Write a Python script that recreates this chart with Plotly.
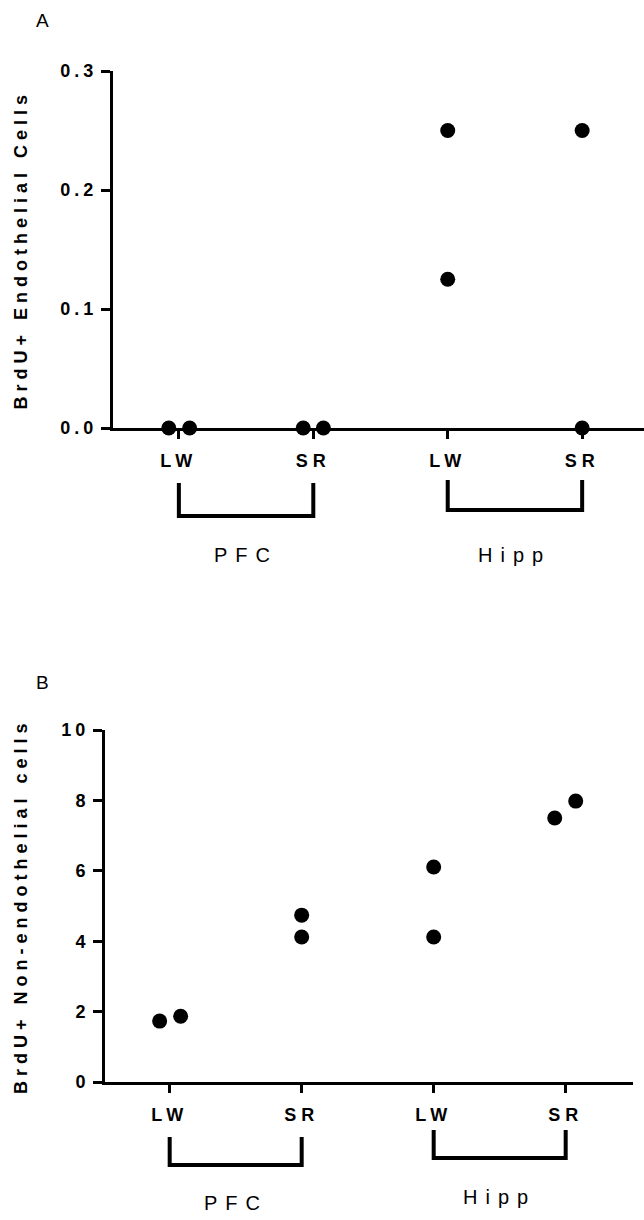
import plotly.graph_objects as go

# ---- data ----
group_labels = ["LW", "SR", "LW", "SR"]          # tick labels
regions = ["PFC", "Hipp"]                        # bracket labels

# Panel A: BrdU+ endothelial cells (two animals per group)
a_pfc_lw = [0.0, 0.0]
a_pfc_sr = [0.0, 0.0]
a_hipp_lw = [0.25, 0.125]
a_hipp_sr = [0.25, 0.0]
a_ticks = [0.0, 0.1, 0.2, 0.3]

# Panel B: BrdU+ non-endothelial cells
b_pfc_lw = [1.73, 1.87]
b_pfc_sr = [4.74, 4.12]
b_hipp_lw = [6.11, 4.12]
b_hipp_sr = [7.5, 7.98]
b_ticks = [0, 2, 4, 6, 8, 10]

# horizontal scatter offsets used to separate overlapping points (layout only)
a_offsets = [[-0.075, 0.08], [-0.075, 0.075], [0, 0], [0, 0]]
b_offsets = [[-0.076, 0.083], [0, 0], [0, 0], [-0.083, 0.076]]

W, H = 644, 1220
FONT = "Liberation Sans, Arial, sans-serif"


def sp(text, px, bold=False):
    t = f'<span style="letter-spacing:{px}px">{text}</span>'
    return f"<b>{t}</b>" if bold else t


def py(pix):
    return 1 - pix / H


fig = go.Figure()

panels = [
    dict(groups=[a_pfc_lw, a_pfc_sr, a_hipp_lw, a_hipp_sr], offs=a_offsets,
         xa="x", ya="y"),
    dict(groups=[b_pfc_lw, b_pfc_sr, b_hipp_lw, b_hipp_sr], offs=b_offsets,
         xa="x2", ya="y2"),
]

for p in panels:
    xs, ys = [], []
    for i, (vals, offs) in enumerate(zip(p["groups"], p["offs"])):
        for v, o in zip(vals, offs):
            xs.append(i + o)
            ys.append(v)
    fig.add_trace(go.Scatter(
        x=xs, y=ys, mode="markers", xaxis=p["xa"], yaxis=p["ya"],
        marker=dict(size=15, color="black", line=dict(width=0)),
        cliponaxis=False, showlegend=False, hoverinfo="skip"))

tick_font = dict(family=FONT, size=18, color="black")
ax_common = dict(showline=True, linewidth=3, linecolor="black", ticks="outside",
                 tickwidth=3, tickcolor="black", showgrid=False, zeroline=False,
                 tickfont=tick_font, automargin=False)

fig.update_layout(
    width=W, height=H, margin=dict(l=0, r=0, t=0, b=0, autoexpand=False),
    plot_bgcolor="white", paper_bgcolor="white",
    xaxis=dict(domain=[113 / W, 1.0], range=[-0.49, 3.46], anchor="y",
               tickvals=[0, 1, 2, 3], ticktext=[sp(t, 5, True) for t in group_labels],
               ticklen=8, ticklabelstandoff=6, **ax_common),
    yaxis=dict(domain=[py(428), py(71)], range=[0, 0.3], anchor="x",
               tickvals=a_ticks,
               ticktext=[sp(f"{v:.1f}", 4, True) for v in a_ticks],
               ticklen=9, ticklabelstandoff=0, **ax_common),
    xaxis2=dict(domain=[105 / W, 633 / W], range=[-0.49, 3.51], anchor="y2",
                tickvals=[0, 1, 2, 3], ticktext=[sp(t, 5, True) for t in group_labels],
                ticklen=8, ticklabelstandoff=6, **ax_common),
    yaxis2=dict(domain=[py(1082), py(730)], range=[0, 10], anchor="x2",
                tickvals=b_ticks,
                ticktext=[sp(str(v), 4, True) for v in b_ticks],
                ticklen=9, ticklabelstandoff=0, **ax_common),
)

# y-axis titles
fig.add_annotation(text=sp("BrdU+ Endothelial Cells", 5, True), textangle=-90,
                   xref="paper", yref="y domain", x=20 / W, y=0.5,
                   xanchor="center", yanchor="middle",
                   showarrow=False, font=dict(family=FONT, size=18, color="black"))
fig.add_annotation(text=sp("BrdU+ Non-endothelial cells", 5, True), textangle=-90,
                   xref="paper", yref="y2 domain", x=21 / W, y=0.5,
                   xanchor="center", yanchor="middle",
                   showarrow=False, font=dict(family=FONT, size=18, color="black"))

# panel letters
for letter, (lx, ly) in zip(["A", "B"], [(42, 20), (42, 682)]):
    fig.add_annotation(text=letter, xref="paper", yref="paper", x=lx / W, y=py(ly),
                       xanchor="center", yanchor="middle", showarrow=False,
                       font=dict(family=FONT, size=19, color="black"))

# group brackets + region labels
brackets = [
    # xref, (i0, i1), top px, bottom px, label px
    ("x", (0, 1), 483, 516, 555),
    ("x", (2, 3), 480, 510, 555),
    ("x2", (0, 1), 1137, 1165, 1203),
    ("x2", (2, 3), 1130, 1158, 1197),
]
for k, (xr, (i0, i1), top, bot, lab) in enumerate(brackets):
    fig.add_shape(type="path", xref=xr, yref="paper",
                  path=f"M {i0},{py(top)} L {i0},{py(bot)} L {i1},{py(bot)} L {i1},{py(top)}",
                  line=dict(color="black", width=4))
    fig.add_annotation(text=sp(regions[k % 2], 8), xref=xr, yref="paper",
                       x=(i0 + i1) / 2, y=py(lab), xanchor="center", yanchor="middle",
                       showarrow=False, font=dict(family=FONT, size=20, color="black"))

post = """
document.documentElement.style.margin='0px';
document.documentElement.style.overflow='hidden';
document.body.style.margin='0px';
document.body.style.overflow='hidden';
"""

fig.write_html("out.html", config={"displayModeBar": False}, post_script=post)
